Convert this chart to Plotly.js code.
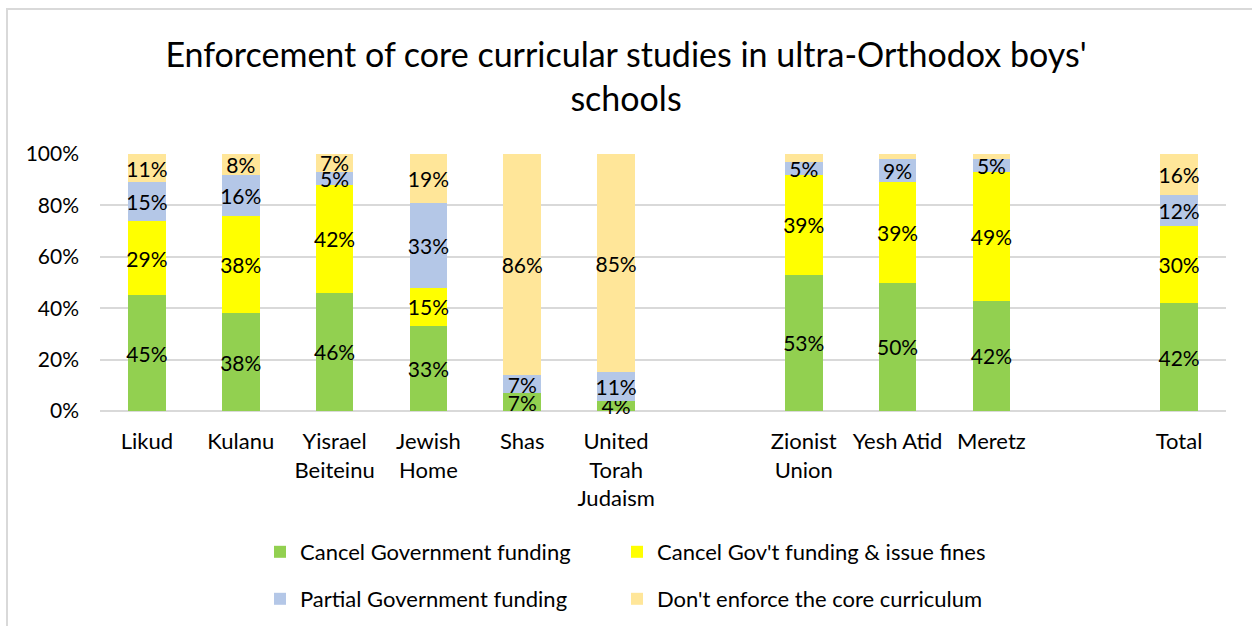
<!DOCTYPE html>
<html>
<head>
<meta charset="utf-8">
<script src="https://cdn.plot.ly/plotly-3.0.1.min.js"></script>
<style>
  body { margin: 0; background: #fff; }
  #plot { width: 1252px; height: 626px; }
</style>
</head>
<body>
<div id="plot"></div>
<script>
// parties, with two empty slots to leave gaps like the original
const parties = ["Likud", "Kulanu", "Yisrael<br>Beiteinu", "Jewish<br>Home", "Shas",
    "United<br>Torah<br>Judaism", " ", "Zionist<br>Union", "Yesh Atid", "Meretz", "  ", "Total"];

const cancelFunding = [45, 38, 46, 33, 7, 4, null, 53, 50, 42, null, 42];
const cancelAndFines = [29, 38, 42, 15, 0, 0, null, 39, 39, 49, null, 30];
const partialFunding = [15, 16, 5, 33, 7, 11, null, 5, 9, 5, null, 12];
const dontEnforce = [11, 8, 7, 19, 86, 85, null, 3, 2, 2, null, 16];

const yTicks = [0, 20, 40, 60, 80, 100];
const yTickLabels = ["0%", "20%", "40%", "60%", "80%", "100%"];

const seriesNames = ["Cancel Government funding", "Cancel Gov't funding & issue fines",
    "Partial Government funding", "Don't enforce the core curriculum"];
const seriesColors = ["#92D050", "#FFFF00", "#B4C7E7", "#FFE699"];
const seriesValues = [cancelFunding, cancelAndFines, partialFunding, dontEnforce];

// one legend per entry so the 2x2 grid can be placed like the original
const legendIds = ["legend", "legend2", "legend3", "legend4"];
const legendX = [260, 617, 260, 617];
const legendY = [552, 552, 599, 599];

const font = "Lato, 'Open Sans', sans-serif";

const data = seriesValues.map(function (vals, i) {
    return {
        type: 'bar',
        name: seriesNames[i],
        x: parties,
        y: vals,
        legend: legendIds[i],
        showlegend: true,
        marker: { color: seriesColors[i] },
        text: vals.map(v => (v !== null && v >= 4) ? v + '%' : ''),
        texttemplate: '%{text}',
        textposition: 'inside',
        insidetextanchor: 'middle',
        textangle: 0,
        constraintext: 'none',
        textfont: { family: font, size: 21, color: '#000' },
        cliponaxis: false,
        hoverinfo: 'skip'
    };
});

const layout = {
    width: 1252,
    height: 626,
    paper_bgcolor: '#fff',
    plot_bgcolor: '#fff',
    margin: { l: 100, r: 26, t: 154, b: 215 },
    showlegend: true,
    barmode: 'stack',
    barnorm: 'percent',
    bargap: 0.6,
    font: { family: font, size: 21, color: '#000' },
    title: {
        text: "Enforcement of core curricular studies in ultra-Orthodox boys'<br>schools",
        font: { family: font, size: 34, color: '#000' },
        x: 0.5, xref: 'container', xanchor: 'center',
        y: 1 - 67 / 626, yref: 'container', yanchor: 'middle'
    },
    xaxis: {
        type: 'category',
        showgrid: false,
        showline: false,
        ticks: '',
        ticklabelstandoff: 15,
        tickfont: { family: font, size: 22, color: '#000' }
    },
    yaxis: {
        range: [0, 100],
        tickmode: 'array',
        tickvals: yTicks,
        ticktext: yTickLabels,
        gridcolor: '#d9d9d9',
        gridwidth: 2,
        zeroline: true,
        zerolinecolor: '#d9d9d9',
        zerolinewidth: 2,
        ticks: '',
        ticklabelstandoff: 20,
        tickfont: { family: font, size: 21, color: '#000' }
    },
    shapes: [{
        type: 'rect', xref: 'paper', yref: 'paper',
        x0: -93 / 1126, x1: 1.05, y0: -0.9, y1: 402 / 257,
        line: { color: '#d9d9d9', width: 2 },
        fillcolor: 'rgba(0,0,0,0)',
        layer: 'below'
    }]
};

legendIds.forEach(function (id, i) {
    layout[id] = {
        visible: true,
        orientation: 'h',
        xref: 'container', yref: 'container',
        x: legendX[i] / 1252, xanchor: 'left',
        y: 1 - legendY[i] / 626, yanchor: 'middle',
        font: { family: font, size: 22, color: '#000' },
        bgcolor: 'rgba(0,0,0,0)'
    };
});

Plotly.newPlot('plot', data, layout, { displayModeBar: false, staticPlot: true });
</script>
</body>
</html>
